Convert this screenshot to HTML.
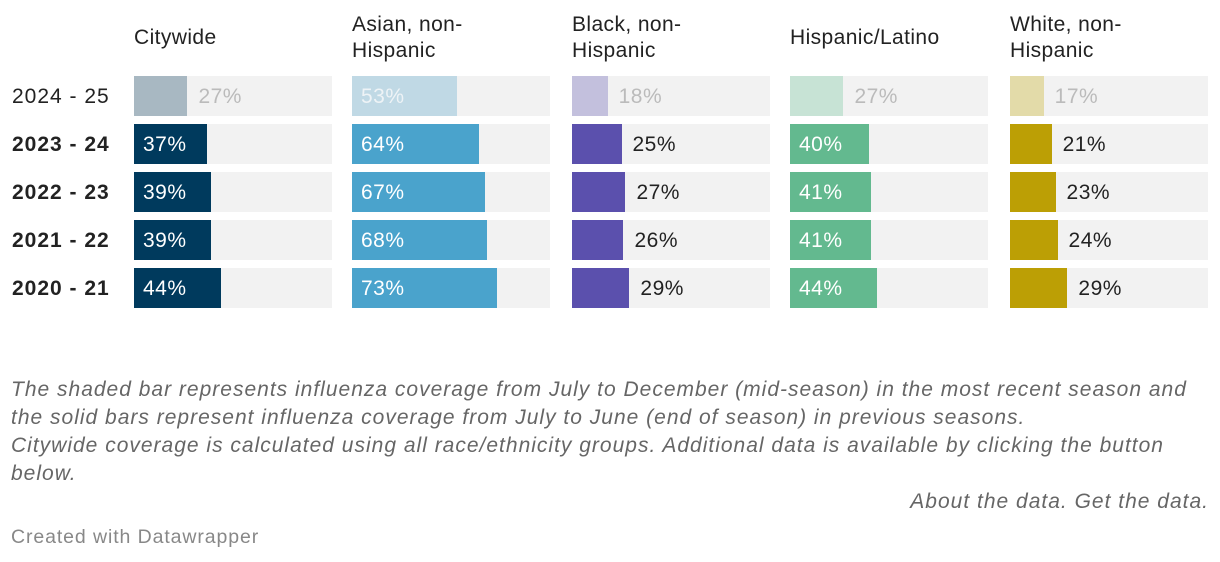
<!DOCTYPE html>
<html><head><meta charset="utf-8"><style>
body{margin:0;width:1220px;height:562px;background:#fff;font-family:"Liberation Sans",sans-serif;overflow:hidden;position:relative}
.a{position:absolute}
.hd{font-size:21px;color:#222;line-height:26px;letter-spacing:0.4px}
.rl{font-size:21px;color:#222;left:12px;line-height:40px;letter-spacing:1px}
.note{font-size:21px;font-style:italic;color:#666;left:11px;line-height:28px;white-space:nowrap;letter-spacing:1px}
</style></head><body>
<div id="chart"></div>
<div class="a note" style="top:376px">The shaded bar represents influenza coverage from July to December (mid-season) in the most recent season and<br>the solid bars represent influenza coverage from July to June (end of season) in previous seasons.<br>Citywide coverage is calculated using all race/ethnicity groups. Additional data is available by clicking the button<br>below.</div>
<div class="a note" style="top:488px;left:auto;right:11px;text-align:right">About the data. Get the data.</div>
<div class="a" style="top:526px;left:11px;font-size:19.5px;color:#888;letter-spacing:0.9px">Created with Datawrapper</div>
<script>
const seasons=["2024 - 25","2023 - 24","2022 - 23","2021 - 22","2020 - 21"];
const groups=["Citywide","Asian, non-<br>Hispanic","Black, non-<br>Hispanic","Hispanic/Latino","White, non-<br>Hispanic"];
const citywide=[27,37,39,39,44];
const asian=[53,64,67,68,73];
const black=[18,25,27,26,29];
const hispanic=[27,40,41,41,44];
const white=[17,21,23,24,29];
const series=[citywide,asian,black,hispanic,white];
const solid=["#003a5d","#4aa3cc","#5b50ad","#63b98f","#bc9f05"];
const shaded=["#a8b8c2","#c0d9e5","#c3c0dd","#c7e3d5","#e3dba9"];
const px=[134,352,572,790,1010],PW=198,top0=76,RH=48,BH=40;
const x=(v)=>v/100*PW;
const y=(i)=>top0+i*RH;
const c=document.getElementById('chart');
function mk(cls,css,html){const d=document.createElement('div');d.className='a '+cls;d.style.cssText=css;if(html!==undefined)d.innerHTML=html;c.appendChild(d);return d;}
seasons.forEach((s,i)=>{
 const d=mk('rl',`top:${y(i)+1}px;font-weight:${i?'bold':'normal'}`,s);
 
 
});
groups.forEach((g,k)=>{
 const h=mk('hd',`left:${px[k]}px;top:${k==0||k==3?25:12}px`,g);
 
 
 series[k].forEach((v,i)=>{
  const bg=mk('',`left:${px[k]}px;top:${y(i)}px;width:${PW}px;height:${BH}px;background:#f2f2f2`);
  
  
  const w=x(v);
  const b=mk('',`left:${px[k]}px;top:${y(i)}px;width:${w}px;height:${BH}px;background:${i?solid[k]:shaded[k]}`);
  
  
  const inside=w>60;
  const col=i==0?(inside?'#eef3f6':'#bbb'):(inside?'#fff':'#222');
  const l=mk('',`left:${inside?px[k]+9:px[k]+w+11}px;top:${y(i)+1}px;line-height:${BH}px;font-size:21px;letter-spacing:0.5px;color:${col}`,v+'%');
  
  
 });
});
</script>
</body></html>
